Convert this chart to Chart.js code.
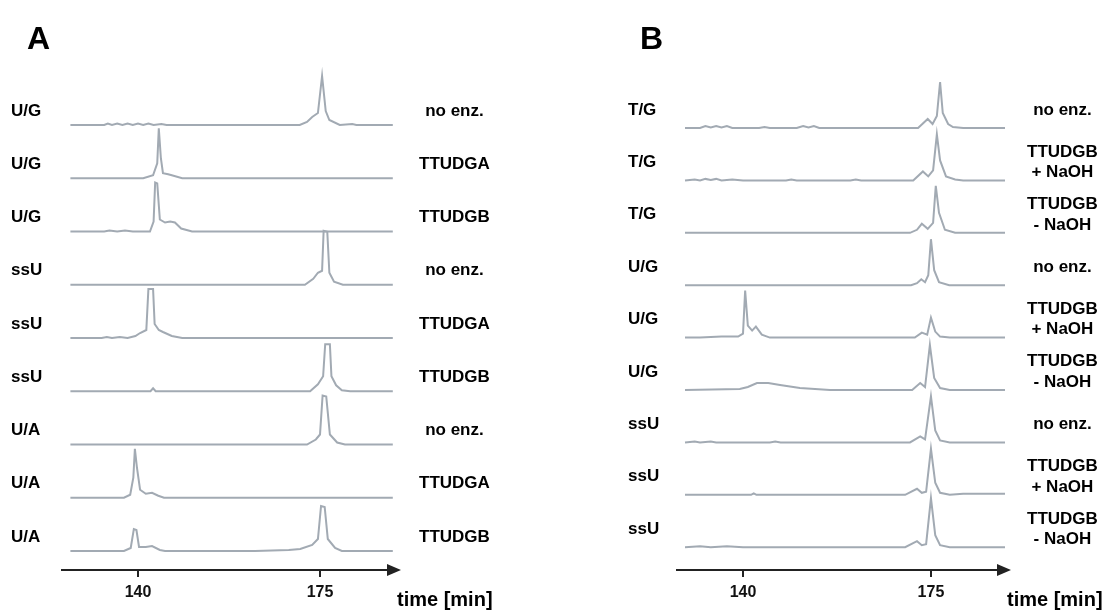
<!DOCTYPE html>
<html>
<head>
<meta charset="utf-8">
<script src="https://cdn.jsdelivr.net/npm/chart.js@4.4.1/dist/chart.umd.min.js"></script>
<style>
  html, body { margin: 0; padding: 0; background: #fff; }
  #wrap { position: relative; width: 1115px; height: 610px; overflow: hidden; }
  canvas { position: absolute; top: 0; }
  #panel_a { left: 0; }
  #panel_b { left: 557px; }
</style>
</head>
<body>
<div id="wrap">
  <canvas id="panel_a" width="557" height="610"></canvas>
  <canvas id="panel_b" width="558" height="610"></canvas>
</div>
<script>
/*
############################## Data ##############################
 each trace: [time (min), signal] pairs
*/
var a_sample_labels = ["U/G", "U/G", "U/G", "ssU", "ssU", "ssU", "U/A", "U/A", "U/A"];
var a_enzyme_labels = ["no enz.", "TTUDGA", "TTUDGB", "no enz.", "TTUDGA", "TTUDGB", "no enz.", "TTUDGA", "TTUDGB"];

var b_sample_labels = ["T/G", "T/G", "T/G", "U/G", "U/G", "U/G", "ssU", "ssU", "ssU"];
var b_enzyme_labels = ["no enz.", ["TTUDGB", "+ NaOH"], ["TTUDGB", "- NaOH"],
                       "no enz.", ["TTUDGB", "+ NaOH"], ["TTUDGB", "- NaOH"],
                       "no enz.", ["TTUDGB", "+ NaOH"], ["TTUDGB", "- NaOH"]];

var time_ticks = [140, 175];

var a_ug_noenz = [[127,0],[133.5,0],[134.2,1.5],[135,0],[136,1.5],[137,0],[138,1.5],[139,0],[140,1.5],[141,0],
                  [142,1.5],[143,0],[144.5,1],[145.5,0],[171.1,0],[172.5,3],[173.5,8],[174.6,12],[175.4,49],
                  [176.1,14],[176.8,5],[178.8,0],[181.2,1],[182,0],[189,0]];
var a_ug_udga = [[127,0],[141,0],[142.9,3],[143.7,15],[144.0,50],[144.4,20],[144.8,5],[145.8,4],[146.5,3],
                 [148.5,0],[189,0]];
var a_ug_udgb = [[127,0],[133.5,0],[134.5,1],[136,0],[137.5,1],[139,0],[142.3,0],[143.0,10],[143.3,49],
                 [143.7,48],[144.2,12],[145.2,9],[146.2,10],[147.1,9],[148.3,3],[150.4,0],[189,0]];
var a_ss_noenz = [[127,0],[172.1,0],[173.7,6],[174.6,12],[175.4,14],[175.7,54],[176.4,53],[176.8,12],
                  [177.7,3],[179.4,0],[189,0]];
var a_ss_udga = [[127,0],[133,0],[134,1],[135,0],[136.5,1],[138,0],[139.5,2],[140.4,5],[141.6,8],[142.0,49],
                 [142.9,49],[143.2,14],[144.0,8],[144.8,6],[146.5,2],[148.5,0],[189,0]];
var a_ss_udgb = [[127,0],[142.4,0],[142.9,3],[143.4,0],[173.1,0],[174.6,7],[175.6,15],[176.0,47],[176.9,47],
                 [177.2,15],[178.1,6],[179.2,1],[180.8,0],[189,0]];
var a_ua_noenz = [[127,0],[172.5,0],[174.2,5],[175.0,10],[175.5,49],[176.2,48],[176.9,10],[178.3,2],
                  [179.8,0],[189,0]];
var a_ua_udga = [[127,0],[137.3,0],[138.5,3],[139.1,20],[139.4,49],[139.8,30],[140.4,8],[141.5,4],
                 [142.7,5],[143.9,2],[145,0],[189,0]];
var a_ua_udgb = [[127,0],[137.3,0],[138.6,3],[139.2,22],[139.7,21],[140.2,4],[141.5,4],[142.7,5],[144.2,1],
                 [145.2,0],[162.5,0],[169,1],[171.2,2],[173.5,6],[174.6,12],[175.2,45],[175.9,44],[176.5,12],
                 [177.9,3],[179.2,0],[189,0]];

var b_tg_noenz = [[129.2,0],[132,0],[133,2],[134,0.5],[135,2],[136,0.5],[137,2],[138,0],[143,0],[144,1],
                  [145,0],[150,0],[151.2,2],[152.2,0.5],[153.2,2],[154.2,0],[172.6,0],[174.4,9],[175.3,4],
                  [176.1,12],[176.7,46],[177.2,15],[178.2,4],[179.1,1],[181,0],[188.8,0]];
var b_tg_plus = [[129.2,0],[131,1],[132,0],[133,1.5],[134,0.5],[135,1.5],[136,0],[138,1],[140,0],[148,0],
                 [149,1],[150,0],[160,0],[161,1],[162,0],[171.7,0],[173.5,9],[174.5,4],[175.4,10],[176.1,46],
                 [176.7,20],[177.8,4],[179.5,1],[181,0],[188.8,0]];
var b_tg_minus = [[129.2,0],[171.1,0],[172.4,3],[173.3,9],[174.4,4],[175.4,10],[175.9,47],[176.5,20],
                  [177.6,3],[179.5,0],[188.8,0]];
var b_ug_noenz = [[129.2,0],[171.3,0],[172.4,2],[173.2,6],[173.9,3],[174.5,10],[175.0,46],[175.6,15],
                  [176.5,3],[178.4,0],[188.8,0]];
var b_ug_plus = [[129.2,0],[132,0],[136,1],[139.1,1],[140.0,4],[140.4,47],[140.9,12],[141.7,7],[142.4,11],
                 [143.5,3],[145,0],[172,0],[173.3,5],[174.3,3],[175.0,20],[175.8,6],[176.7,1],[178.5,0],
                 [188.8,0]];
var b_ug_minus = [[129.2,0],[139.4,1],[140.9,3],[142.6,7],[144.7,7],[146.9,5],[150.6,2],[156.2,0],[171.5,0],
                  [173,7],[173.9,3],[174.8,45],[175.6,12],[176.7,2],[178.5,0],[188.8,0]];
var b_ss_noenz = [[129.2,0],[131,1],[132,0],[134,1],[135,0],[145,0],[146,1],[147,0],[171.1,0],[173,6],
                  [173.9,3],[175.0,46],[175.8,12],[176.7,2],[178.5,0],[188.8,0]];
var b_ss_plus = [[129.2,0],[141.5,0],[142,1.5],[142.5,0],[170.2,0],[172.4,6],[173.3,2],[174.1,3],[175.0,46],
                 [175.8,12],[176.7,2],[178.5,0],[181,1],[188.8,1]];
var b_ss_minus = [[129.2,0],[132,1],[134,0],[137,1],[140,0],[170.2,0],[172.4,6],[173.3,2],[174.1,3],
                  [175.0,49],[175.8,12],[176.7,2],[178.5,0],[188.8,0]];

var a_traces = [a_ug_noenz, a_ug_udga, a_ug_udgb, a_ss_noenz, a_ss_udga, a_ss_udgb, a_ua_noenz, a_ua_udga, a_ua_udgb];
var b_traces = [b_tg_noenz, b_tg_plus, b_tg_minus, b_ug_noenz, b_ug_plus, b_ug_minus, b_ss_noenz, b_ss_plus, b_ss_minus];

/*
############################## Drawing ##############################
*/
var FONT = "'Liberation Sans', Arial, sans-serif";
var LINE_COLOR = "#a2aab3";

// arrowhead, panel letter and axis name
var panelDecor = {
    id: "panelDecor",
    afterDraw(chart, args, opts) {
        var ctx = chart.ctx;
        var area = chart.chartArea;
        ctx.save();
        ctx.fillStyle = "#222";
        ctx.beginPath();
        ctx.moveTo(area.right - 8, area.bottom - 6);
        ctx.lineTo(area.right + 6, area.bottom);
        ctx.lineTo(area.right - 8, area.bottom + 6);
        ctx.closePath();
        ctx.fill();

        ctx.fillStyle = "#000";
        ctx.textBaseline = "alphabetic";
        ctx.textAlign = "left";
        ctx.font = "bold 32px " + FONT;
        ctx.fillText(opts.letter, opts.letterX, 49);

        ctx.font = "bold 20px " + FONT;
        ctx.fillText("time [min]", area.right + 2, 606);
        ctx.restore();
    }
};

function draw_panel(canvasId, traces, sampleLabels, enzymeLabels, cfg) {
    var ctx = document.getElementById(canvasId);

    let datasets = [];
    let labelPositions = [];
    traces.forEach((trace, index) => {
        let offset = cfg.firstBase - index * cfg.step;
        datasets.push({
            data: trace.map(p => ({ x: p[0], y: offset + p[1] })),
            borderColor: LINE_COLOR,
            borderWidth: 2,
            pointRadius: 0,
            tension: 0,
            fill: false
        });
        labelPositions.push(offset + cfg.labelLift);
    });

    let labelTicks = function(scale) {
        scale.ticks = labelPositions.map(v => ({ value: v }));
    };

    return new Chart(ctx, {
        type: "line",
        data: { datasets: datasets },
        plugins: [panelDecor],
        options: {
            responsive: false,
            animation: false,
            events: [],
            layout: { padding: { left: cfg.padLeft, top: 60, right: 0, bottom: 0 } },
            scales: {
                x: {
                    type: "linear",
                    bounds: "data",
                    min: cfg.xMin,
                    max: cfg.xMax,
                    afterBuildTicks: scale => { scale.ticks = time_ticks.map(v => ({ value: v })); },
                    afterFit: scale => { scale.height = 40; },
                    border: { display: true, color: "#222", width: 2 },
                    grid: { display: true, drawOnChartArea: false, drawTicks: true, tickLength: 7, color: "#222", lineWidth: 2 },
                    ticks: { color: "#111", font: { family: FONT, size: 16, weight: "bold" }, padding: 6, autoSkip: false, maxRotation: 0 }
                },
                y: {
                    type: "linear",
                    position: "left",
                    bounds: "data",
                    min: 0,
                    max: 510,
                    afterBuildTicks: labelTicks,
                    afterFit: scale => { scale.width = cfg.leftWidth; },
                    border: { display: false },
                    grid: { display: false },
                    ticks: {
                        color: "#000",
                        font: { family: FONT, size: 17, weight: "bold" },
                        crossAlign: "far",
                        autoSkip: false,
                        callback: (value, index) => sampleLabels[index]
                    }
                },
                y2: {
                    type: "linear",
                    position: "right",
                    bounds: "data",
                    min: 0,
                    max: 510,
                    afterBuildTicks: labelTicks,
                    afterFit: scale => { scale.width = cfg.rightWidth; },
                    border: { display: false },
                    grid: { display: false },
                    ticks: {
                        color: "#000",
                        font: { family: FONT, size: 17, weight: "bold" },
                        crossAlign: "center",
                        padding: cfg.rightPad,
                        autoSkip: false,
                        callback: (value, index) => enzymeLabels[index]
                    }
                }
            },
            plugins: {
                legend: { display: false },
                tooltip: { enabled: false },
                panelDecor: { letter: cfg.letter, letterX: cfg.letterX }
            }
        }
    });
}

var chart_a = draw_panel("panel_a", a_traces, a_sample_labels, a_enzyme_labels, {
    letter: "A", letterX: 27,
    padLeft: 11, leftWidth: 51, rightWidth: 162, rightPad: 16,
    xMin: 125.385, xMax: 189.423,
    firstBase: 445, step: 53.25, labelLift: 14
});

var chart_b = draw_panel("panel_b", b_traces, b_sample_labels, b_enzyme_labels, {
    letter: "B", letterX: 83,
    padLeft: 71, leftWidth: 49, rightWidth: 110, rightPad: 14,
    xMin: 127.709, xMax: 188.79,
    firstBase: 442, step: 52.4, labelLift: 18
});
</script>
</body>
</html>
